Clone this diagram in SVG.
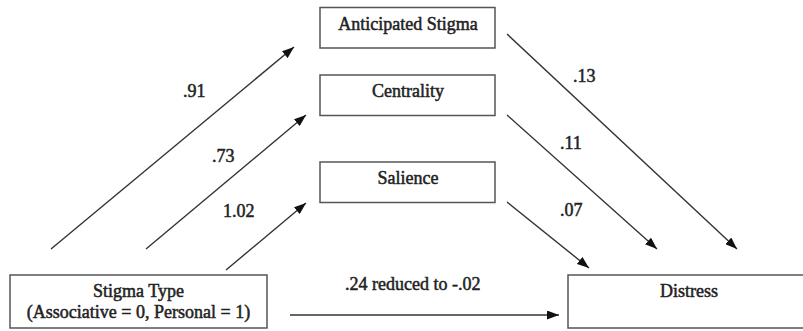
<svg xmlns="http://www.w3.org/2000/svg" width="803" height="331" viewBox="0 0 803 331">
<style>
.box{fill:#fff;stroke:#555;stroke-width:1.5}
.t{font-family:'Liberation Serif','DejaVu Serif',serif;font-size:18px;font-weight:normal;fill:#222;text-anchor:middle;stroke:#222;stroke-width:0.5}
.l{font-family:'Liberation Serif','DejaVu Serif',serif;font-size:18px;font-weight:normal;fill:#222;stroke:#222;stroke-width:0.5}
.c{stroke:#333;stroke-width:1.4;fill:none;marker-end:url(#ah)}
</style>
<defs>
<marker id="ah" markerUnits="userSpaceOnUse" markerWidth="13" markerHeight="9" refX="12" refY="4.5" orient="auto">
<path d="M0,0 L12,4.5 L0,9 z" fill="#111"/>
</marker>
</defs>
<rect width="803" height="331" fill="#fff"/>
<g id="connectors">
<line class="c" x1="51" y1="249" x2="294" y2="47"/>
<line class="c" x1="146" y1="249" x2="306" y2="115"/>
<line class="c" x1="226" y1="270" x2="306" y2="203"/>
<line class="c" x1="507" y1="34" x2="737" y2="249"/>
<line class="c" x1="507" y1="115" x2="657" y2="249"/>
<line class="c" x1="507" y1="202" x2="589" y2="268"/>
<line class="c" x1="290" y1="315" x2="559" y2="315"/>
<text class="l" x="183" y="97">.91</text>
<text class="l" x="212" y="162">.73</text>
<text class="l" x="223" y="217">1.02</text>
<text class="l" x="573" y="82">.13</text>
<text class="l" x="560" y="149">.11</text>
<text class="l" x="560" y="216">.07</text>
<text class="l" x="345" y="290">.24 reduced to -.02</text>
</g>
<g id="anticipated">
<rect class="box" x="320" y="7.5" width="175" height="40.5"/>
<text class="t" x="408" y="30">Anticipated Stigma</text>
</g>
<g id="centrality">
<rect class="box" x="320" y="75" width="175" height="40.5"/>
<text class="t" x="408" y="97">Centrality</text>
</g>
<g id="salience">
<rect class="box" x="320" y="162" width="175" height="40.5"/>
<text class="t" x="408" y="184">Salience</text>
</g>
<g id="stigmatype">
<rect class="box" x="10" y="275" width="257" height="53"/>
<text class="t" x="138.5" y="297">Stigma Type</text>
<text class="t" x="138.5" y="318">(Associative = 0, Personal = 1)</text>
</g>
<g id="distress">
<rect class="box" x="568" y="275" width="245" height="53"/>
<text class="t" x="689" y="297">Distress</text>
</g>
</svg>
